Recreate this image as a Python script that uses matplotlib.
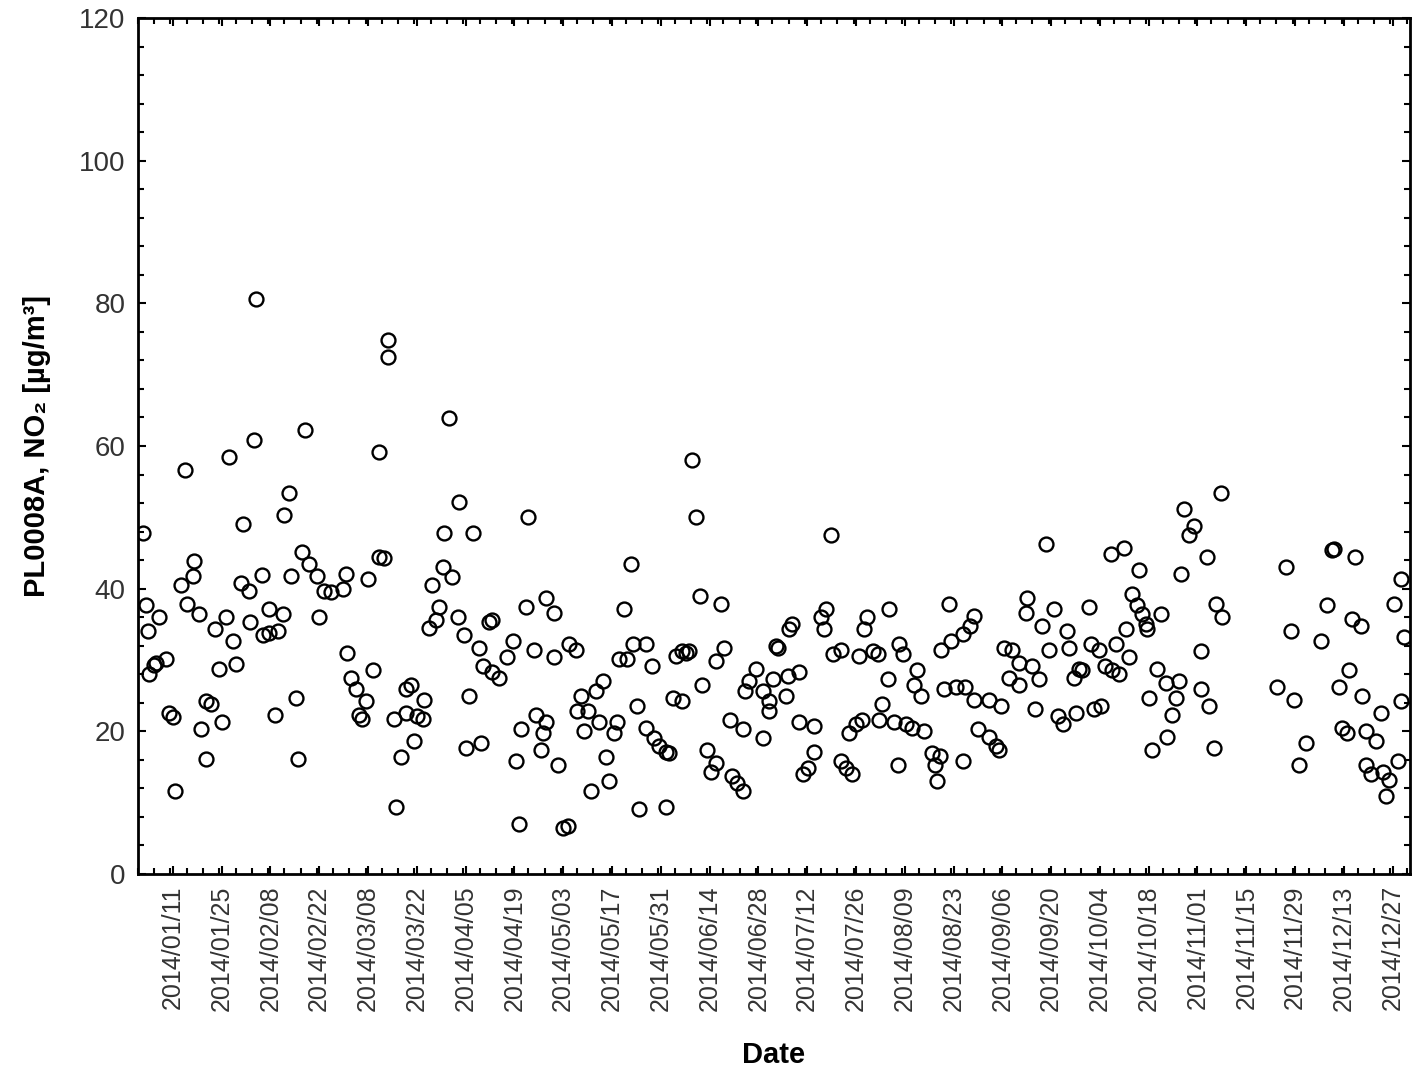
import numpy as np
import pandas as pd
import matplotlib
matplotlib.use("Agg")
import matplotlib.pyplot as plt
import matplotlib.dates as mdates

plt.rcParams['font.family'] = ['Liberation Sans', 'DejaVu Sans']

day_of_year = [
    1.3, 2.3, 6.1, 2.8, 3.3, 5.2, 8.0, 4.5, 9.0, 10.0, 10.7, 13.6, 16.2, 15.7, 12.3, 14.2, 17.6,
    19.5, 21.0, 18.0, 24.0, 19.5, 22.0, 25.2, 27.4, 23.3, 28.1, 26.2, 30.2, 33.4, 34.0, 29.5,
    31.9, 35.6, 32.2, 37.5, 35.8, 37.7, 40.1, 41.5, 39.4, 42.0, 43.4, 43.9, 45.3, 46.0, 48.0,
    47.2, 49.1, 51.5, 53.4, 55.4, 58.7, 52.0, 59.7, 59.9,
    71.6, 71.7, 89.3, 69.2, 92.2, 111.8, 87.9, 96.0, 69.2, 70.6, 65.9, 87.4, 90.2, 84.5, 86.5,
    85.5, 83.6, 91.7, 93.6, 97.9, 100.8, 101.7, 107.5, 106.0, 98.9, 101.7, 103.6, 111.3, 117.1,
    119.4, 113.7, 119.4, 67.3, 61.0, 62.5, 65.4, 63.5, 64.4, 76.9, 78.3, 82.1, 80.2, 81.7, 73.6,
    76.9, 79.2, 75.4, 74.0, 95.0, 94.0, 98.4, 108.5, 110.0, 114.2, 117.1, 116.1, 115.6, 120.4,
    109.4,
    159.1, 160.1, 141.4, 139.5, 161.4, 167.2, 123.7, 125.6, 141.9, 145.7, 138.0, 140.4, 147.6,
    154.3, 156.2, 158.1, 157.2, 168.2, 165.8, 161.8, 177.3, 175.3, 179.2, 174.1, 181.1, 133.3,
    131.4, 127.1, 126.1, 129.0, 128.0, 132.3, 137.5, 136.6, 143.3, 153.4, 156.2, 145.7, 148.1,
    149.5, 151.4, 152.4, 134.2, 169.9, 173.6, 179.2, 163.4, 165.8, 164.4, 170.4, 172.0, 173.5,
    135.2, 130.1, 143.8, 151.4, 121.9, 123.3,
    198.8, 232.8, 197.3, 195.9, 196.9, 187.8, 186.8, 215.5, 209.3, 208.4, 239.9, 238.6, 236.6,
    233.3, 230.5, 183.5, 183.0, 199.3, 201.6, 207.0, 210.8, 212.2, 218.4, 219.4, 189.7, 186.4,
    182.1, 185.9, 181.1, 223.6, 222.7, 224.6, 215.1, 231.4, 234.8, 237.2, 240.0, 189.7, 194.0,
    203.9, 205.9, 207.8, 212.6, 213.6, 217.0, 220.3, 222.2, 225.5, 240.9, 194.0, 192.2, 190.7,
    201.7, 203.2, 204.9, 218.1, 227.7, 230.1, 228.6, 229.2, 236.6,
    300.1, 301.5, 260.5, 279.1, 282.9, 287.3, 299.2, 285.3, 286.7, 288.2, 289.1, 289.6, 293.5,
    255.2, 254.7, 262.9, 272.9, 259.5, 266.7, 283.4, 280.5, 284.3, 267.1, 261.4, 248.5, 250.9,
    252.8, 256.6, 273.4, 275.8, 270.1, 268.6, 271.0, 277.6, 279.6, 281.5, 249.9, 252.8, 258.5,
    292.5, 294.9, 298.7, 297.7, 290.1, 296.8, 295.4, 291.0, 244.2, 247.5, 244.2, 246.1, 247.0,
    257.5, 263.9, 265.3, 269.2, 274.4, 276.4,
    310.7, 303.0, 306.8, 309.2, 311.1, 305.0, 305.0, 307.3, 308.7, 329.3, 330.7, 326.9, 331.7,
    335.0, 333.1, 343.2, 342.7, 349.3, 341.3, 339.4, 348.4, 350.8, 347.4, 344.5, 351.3, 345.5,
    346.9, 352.3, 355.2, 356.6, 352.3, 353.8, 357.1, 359.0, 358.0, 361.4, 362.4, 360.5, 362.4,
    363.4,
]
no2 = [
    47.8, 37.7, 36.1, 34.0, 28.0, 29.6, 30.1, 29.3, 22.6, 22.0, 11.7, 56.6, 43.9, 41.8, 40.5, 37.8, 36.4,
    24.2, 23.9, 20.3, 21.3, 16.1, 34.3, 36.1, 32.7, 28.8, 29.4, 58.4, 49.1, 60.9, 80.6, 40.8,
    39.7, 41.9, 35.3, 37.1, 33.5, 33.8, 34.1, 36.4, 22.3, 50.4, 53.4, 41.8, 24.7, 16.1, 62.2,
    45.2, 43.4, 41.8, 39.7, 39.5, 40.0, 36.1, 42.1, 31.0,
    74.8, 72.5, 63.9, 59.2, 52.2, 50.1, 47.8, 47.8, 44.4, 44.3, 41.3, 43.1, 41.6, 40.5, 37.4,
    35.6, 34.5, 36.1, 33.5, 31.7, 35.3, 35.6, 32.7, 30.4, 29.1, 28.3, 27.5, 37.4, 38.7,
    36.6, 31.4, 30.4, 28.6, 27.5, 26.0, 24.2, 22.3, 21.8, 26.0, 26.5, 24.4, 22.1, 21.8, 21.8,
    22.6, 18.7, 16.4, 9.4, 25.0, 17.7, 18.4, 15.8, 20.3, 22.3, 21.3, 19.7, 17.4, 15.3,
    7.0,
    58.0, 50.1, 43.5, 37.1, 39.0, 37.9, 32.2, 31.4, 32.2, 32.2, 30.1, 30.1, 29.1,
    30.6, 31.2, 31.2, 31.0, 31.7, 29.9, 26.5, 28.8, 27.0, 25.7, 25.7, 24.2, 27.0,
    25.7, 25.0, 22.9, 22.9, 20.0, 21.3, 21.3, 19.7, 23.6, 24.7, 24.2, 20.5, 19.0,
    17.9, 17.1, 16.9, 16.4, 21.6, 20.3, 19.0, 17.4, 15.6, 14.3, 13.8, 12.7, 11.7,
    13.0, 11.7, 9.1, 9.4, 6.5, 6.8,
    47.5, 37.9, 37.1, 36.1, 34.3, 35.1, 34.3, 37.1, 36.1, 34.3, 36.2, 34.8, 33.7,
    32.7, 31.4, 31.7, 32.0, 30.9, 31.4, 30.6, 31.2, 30.9, 32.2, 30.9, 28.3, 27.8,
    27.3, 25.0, 22.9, 28.6, 26.5, 25.0, 27.3, 26.0, 26.2, 26.2, 24.4, 21.3, 20.8,
    19.7, 21.0, 21.6, 21.6, 23.9, 21.3, 21.0, 20.5, 20.0, 20.3, 17.1, 14.8, 14.0,
    15.8, 14.8, 14.0, 15.3, 16.9, 16.6, 15.3, 13.0, 15.8,
    51.2, 47.5, 46.2, 44.9, 45.7, 42.6, 42.1, 39.2, 37.7, 36.4, 35.1, 34.3, 36.4,
    38.7, 36.6, 37.1, 37.4, 34.8, 34.0, 34.3, 32.2, 30.4, 31.7, 31.4, 31.7, 31.4,
    29.6, 29.1, 32.2, 31.4, 28.8, 27.5, 28.6, 29.1, 28.6, 28.1, 27.5, 26.5, 27.3,
    28.8, 26.8, 27.0, 24.7, 24.7, 22.3, 19.2, 17.4, 24.4, 23.6, 19.2, 17.9, 17.4,
    23.1, 22.1, 21.0, 22.6, 23.1, 23.6,
    53.4, 48.8, 44.4, 37.9, 36.1, 31.2, 26.0, 23.6, 17.7, 43.1, 34.0, 26.2, 24.4,
    18.4, 15.3, 45.6, 45.4, 44.4, 37.7, 32.6, 35.8, 34.8, 28.6, 26.2, 24.9, 20.5,
    19.7, 20.0, 18.7, 22.6, 15.3, 14.0, 14.3, 13.2, 10.9, 15.8, 24.2, 37.9, 41.3,
    33.2,
]

start = pd.Timestamp("2014-01-01")
dates = start + pd.to_timedelta(day_of_year, unit="D")
tick_dates = pd.date_range("2014-01-11", "2014-12-27", freq="14D")

fig = plt.figure(figsize=(14.18, 10.74), dpi=100)
ax = fig.add_axes([0.0973, 0.1862, 0.8971, 0.797])

ax.plot(dates, no2, linestyle='none', marker='o', markersize=10,
        markerfacecolor='none', markeredgecolor='black', markeredgewidth=1.7)

ax.set_xlim(start, pd.Timestamp("2015-01-01"))
ax.set_ylim(0, 120)
ax.set_yticks(np.arange(0, 121, 20))
ax.set_yticks(np.arange(0, 121, 4), minor=True)
ax.set_xticks(tick_dates)
ax.set_xticks(pd.date_range("2014-01-01", "2014-12-31", freq="112h"), minor=True)
ax.xaxis.set_major_formatter(mdates.DateFormatter('%Y/%m/%d'))

for s in ax.spines.values():
    s.set_linewidth(2)
ax.tick_params(which='both', direction='in', top=True, right=True, width=1.5)
ax.tick_params(which='major', length=6)
ax.tick_params(which='minor', length=4)
ax.tick_params(axis='y', labelsize=20, labelcolor='#333333', pad=9)
ax.tick_params(axis='x', labelsize=18, labelcolor='#333333', rotation=90, pad=8)

ax.set_xlabel('Date', fontsize=21, fontweight='bold', labelpad=22)
ax.set_ylabel('PL0008A, NO₂ [µg/m³]', fontsize=21, fontweight='bold', labelpad=20)

fig.savefig('out.png', dpi=100)
